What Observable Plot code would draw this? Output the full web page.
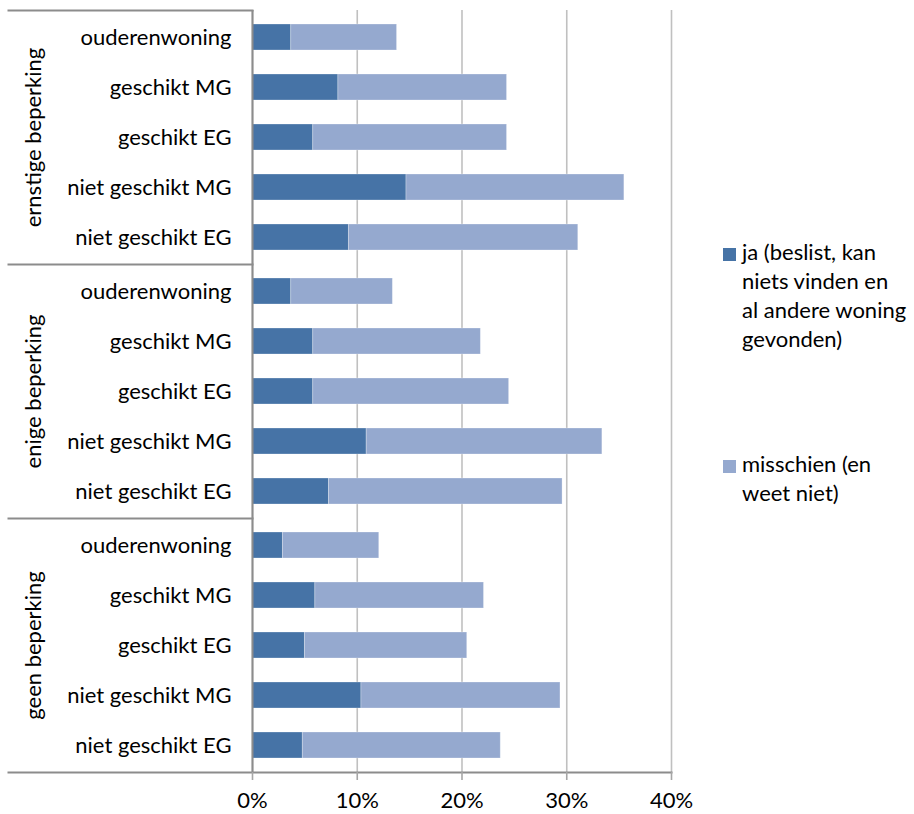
<!DOCTYPE html>
<html>
<head>
<meta charset="utf-8">
<script src="https://cdn.jsdelivr.net/npm/d3@7"></script>
<script src="https://cdn.jsdelivr.net/npm/@observablehq/plot@0.6"></script>
<style>
  html, body { margin: 0; padding: 0; background: #fff; }
  #chart { position: relative; width: 914px; height: 814px; font-family: Lato, "Open Sans", sans-serif; }
  #chart svg { display: block; }
  .legend { position: absolute; left: 723px; top: 0; font-size: 22px; line-height: 29px; color: #000; }
  .legend .item { position: absolute; left: 0; white-space: nowrap; }
  .legend .swatch { position: absolute; left: 0; width: 13px; height: 13px; }
  .legend .label { position: absolute; left: 19px; }
</style>
</head>
<body>
<div id="chart"></div>
<script>
// Beperkingsgroepen (facetten) en woningtypen (balken per groep)
const groups = ["ernstige beperking", "enige beperking", "geen beperking"];
const categories = ["ouderenwoning", "geschikt MG", "geschikt EG", "niet geschikt MG", "niet geschikt EG"];

// Reeksen, met de regels zoals ze in de legenda staan
const seriesLines = [
  ["ja (beslist, kan", "niets vinden en", "al andere woning", "gevonden)"],
  ["misschien (en", "weet niet)"]
];
const seriesNames = seriesLines.map(lines => lines.join(" "));
const seriesColors = ["#4673A6", "#95A9CF"];

// Percentages per groep, in de volgorde van categories
const jaValues = [
  [3.7, 8.2, 5.8, 14.7, 9.2],
  [3.7, 5.8, 5.8, 10.9, 7.3],
  [2.9, 6.0, 5.0, 10.4, 4.8]
];
const misschienValues = [
  [10.1, 16.1, 18.5, 20.8, 21.9],
  [9.7, 16.0, 18.7, 22.5, 22.3],
  [9.2, 16.1, 15.5, 19.0, 18.9]
];

const xTicks = [0, 10, 20, 30, 40];

// Lange tabel voor het gestapelde staafdiagram
const rows = [];
groups.forEach((group, gi) => {
  categories.forEach((category, ci) => {
    rows.push({group, category, series: seriesNames[0], value: jaValues[gi][ci]});
    rows.push({group, category, series: seriesNames[1], value: misschienValues[gi][ci]});
  });
});

const width = 914, height = 814;
const marginLeft = 252, marginRight = 243, marginTop = 9, marginBottom = 42;
const plotWidth = width - marginLeft - marginRight;
const sepStart = 8;          // linker beginpunt van de groepslijnen
const lineColor = "#8C8C8C";
const fontSize = 22;

const chart = Plot.plot({
  width, height, marginLeft, marginRight, marginTop, marginBottom,
  style: {fontFamily: "Lato, 'Open Sans', sans-serif", fontSize: `${fontSize}px`, color: "#000", background: "#fff"},
  x: {domain: [xTicks[0], xTicks[xTicks.length - 1]]},
  y: {domain: categories, paddingInner: 0.49, paddingOuter: 0.245},
  fy: {domain: groups, padding: 0, axis: null},
  color: {domain: seriesNames, range: seriesColors},
  marks: [
    Plot.gridX(xTicks, {stroke: "#C0C0C0", strokeOpacity: 1, strokeWidth: 1.6}),
    Plot.barX(rows, Plot.stackX({
      x: "value", y: "category", fy: "group", fill: "series",
      stroke: "#ffffff", strokeOpacity: 0.35, strokeWidth: 0.8
    })),
    Plot.ruleX([0], {stroke: lineColor, strokeWidth: 2}),
    // scheidingslijnen tussen de groepen in de linkermarge
    Plot.frame({anchor: "top", insetLeft: -(marginLeft - sepStart), insetRight: plotWidth, stroke: lineColor, strokeWidth: 2}),
    // onderste aslijn over de volle breedte
    Plot.frame({anchor: "bottom", facet: "super", insetLeft: -(marginLeft - sepStart), stroke: lineColor, strokeWidth: 2}),
    Plot.axisX({
      ticks: xTicks, tickFormat: d => `${d}%`, tickSize: 8, tickPadding: 12,
      stroke: "#A6A6A6", strokeWidth: 1.6, fontSize, label: null
    }),
    Plot.axisY({tickSize: 0, tickPadding: 21, fontSize, label: null}),
    Plot.text(groups, {
      fy: d => d, text: d => d, frameAnchor: "left", textAnchor: "middle", rotate: -90,
      dx: 33 - marginLeft, fontSize, fill: "#000"
    })
  ]
});

const container = document.getElementById("chart");
container.appendChild(chart);

// Legenda rechts van de grafiek
const legend = document.createElement("div");
legend.className = "legend";
const itemTops = [237, 449];
seriesNames.forEach((name, i) => {
  const item = document.createElement("div");
  item.className = "item";
  item.style.top = `${itemTops[i]}px`;
  const sw = document.createElement("div");
  sw.className = "swatch";
  sw.style.background = seriesColors[i];
  sw.style.top = "11px";
  const label = document.createElement("div");
  label.className = "label";
  label.innerHTML = seriesLines[i].join("<br>");
  item.appendChild(sw);
  item.appendChild(label);
  legend.appendChild(item);
});
container.appendChild(legend);
</script>
</body>
</html>
